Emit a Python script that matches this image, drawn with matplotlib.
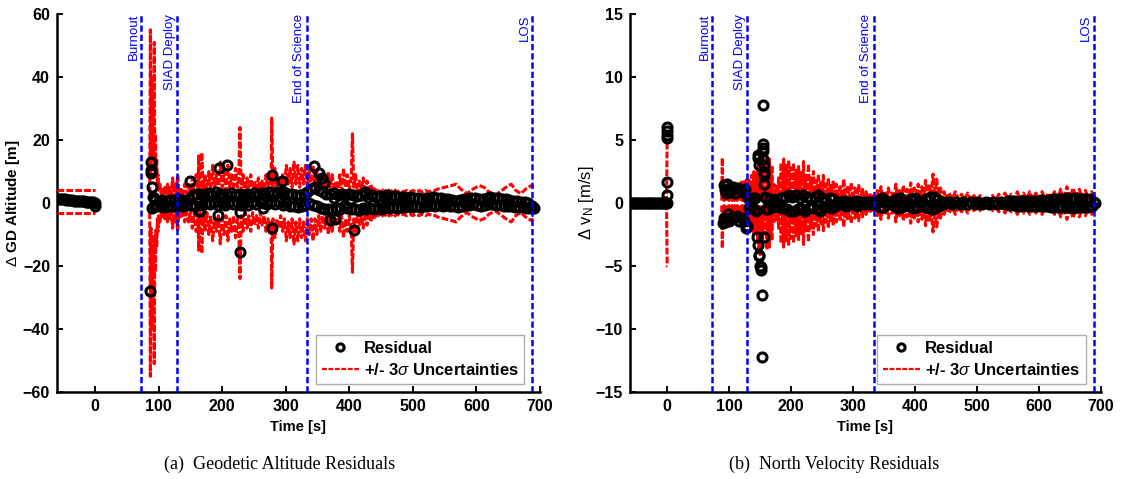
import numpy as np
import matplotlib
matplotlib.use("Agg")
import matplotlib.pyplot as plt

# ---------------- DATA ----------------
events = ["Burnout", "SIAD Deploy", "End of Science", "LOS"]
event_t = [73, 129, 333, 688]

# Panel (a): geodetic altitude residuals
alt_pre_t = [-60, -57, -54, -51, -48, -45, -42, -39, -36, -33, -30, -27, -24, -21, -18, -15, -12, -9, -6, -3, 0, 0.5]
alt_pre_r = [1.4, 1.3, 1.3, 1.2, 1.2, 1.1, 1.0, 1.0, 0.9, 0.8, 0.8, 0.7, 0.6, 0.6, 0.5, 0.4, 0.4, 0.3, 0.2, 0.2, 0.1, -1.0]
alt_pre_sig_t = [-60, 0]
alt_pre_sig_hi = [4.2, 4.2]
alt_pre_sig_lo = [-3.3, -3.3]

alt_t = [88, 89, 90, 91, 92, 93, 94, 95, 97, 100, 103, 106, 109, 112, 115, 118, 121, 124, 127, 130,
         133, 136, 139, 142, 145, 148, 151, 154, 157, 160, 163, 166, 169, 172, 175, 178, 181, 184, 187, 190,
         193, 196, 199, 202, 205, 208, 211, 214, 217, 220, 223, 226, 229, 232, 235, 238, 241, 244, 247, 250,
         253, 256, 259, 262, 265, 268, 271, 274, 277, 280, 283, 286, 289, 292, 295, 298, 301, 304, 307, 310,
         313, 316, 319, 322, 325, 328, 331, 334, 337, 340, 343, 346, 349, 352, 355, 358, 361, 364, 367, 370,
         373, 376, 379, 382, 385, 388, 391, 394, 397, 400, 403, 406, 409, 412, 415, 418, 421, 424, 427, 430,
         433, 436, 439, 442, 445, 448, 451, 454, 457, 460, 463, 466, 469, 472, 475, 478, 481, 484, 487, 490,
         493, 496, 499, 502, 505, 508, 511, 514, 517, 520, 523, 526, 529, 532, 535, 538, 541, 544, 547, 550,
         553, 556, 559, 562, 565, 568, 571, 574, 577, 580, 583, 586, 589, 592, 595, 598, 601, 604, 607, 610,
         613, 616, 619, 622, 625, 628, 631, 634, 637, 640, 643, 646, 649, 652, 655, 658, 661, 664, 667, 670,
         673, 676, 679, 682, 685, 688, 690]
alt_r = [9.5, 5.0, -1.5, 2.0, -1.0, 1.5, -0.5, 1.0, -1.0, 0.8, -0.9, 1.0, -1.2, 0.6, -0.8, 1.1, -1.0, 0.5, -0.9, 1.2,
         -0.6, 0.9, -1.0, 0.7, -0.5, 1.3, -0.5, 2.5, -0.8, 2.8, 0.2, 3.0, -0.5, 2.5, 0.0, 3.2, -0.4, 2.6, 0.3, 3.4,
         -0.6, 2.8, 0.0, 3.0, -0.5, 2.4, 0.2, 3.2, -0.3, 2.6, 0.4, 3.0, -0.6, 2.2, 0.0, 2.8, -0.5, 2.4, 0.3, 3.1,
         -0.2, 2.6, 0.5, 3.3, 0.0, 2.9, -0.4, 3.5, 0.2, 3.0, -0.3, 3.6, 0.4, 3.2, -0.5, 3.4, 0.0, 2.8, -0.8, 3.0,
         -1.0, 2.6, -1.2, 2.4, -0.9, 3.0, -0.5, 3.6, 0.0, 4.5, -0.5, 5.0, -1.0, 4.2, -1.5, 3.5, -2.0, 3.0, -1.8, 2.8,
         -2.2, 3.2, -1.5, 2.5, -2.0, 3.0, -1.0, 2.4, -1.6, 2.8, -2.0, 2.5, -1.8, 2.2, -2.2, 2.6, -1.5, 2.8, -2.0, 2.0,
         -1.6, 2.4, -1.8, 2.0, -1.5, 2.2, -1.8, 1.8, -1.4, 2.4, -1.6, 2.0, -1.2, 2.2, -1.5, 1.8, -1.2, 2.0, -1.4, 1.6,
         -1.0, 1.8, -1.2, 1.5, -0.9, 1.7, -1.1, 1.4, -0.8, 1.6, -1.0, 1.4, -0.7, 1.8, -0.9, 1.5, -0.6, 1.7, -0.8, 1.4,
         -0.5, 1.2, -0.9, 1.0, -1.0, 0.8, -1.1, 1.0, -0.9, 1.2, -0.6, 1.4, -0.5, 1.6, -0.4, 1.5, -0.6, 1.3, -0.8, 1.4,
         -0.5, 1.6, -0.4, 1.8, -0.3, 1.7, -0.5, 1.5, -0.6, 1.3, -0.8, 1.2, -0.9, 1.0, -1.0, 0.8, -1.2, 0.6, -1.3, 0.4,
         -1.4, 0.2, -1.5, 0.0, -1.6, -1.0, -1.7]
alt_out_t = [87, 87.5, 88.5, 149, 163, 165, 193, 195, 208, 228, 228, 264, 278, 278, 294, 345, 353, 357, 360, 370, 376, 377, 402, 407, 425]
alt_out_r = [-28, 13, 10.5, 7, -2.4, -2.6, -3.7, 11, 12, -15.5, -3, -1.6, 9, -8, 7, 11.8, 9.5, 8, 6.5, -5.5, 1.6, -5, 1.3, -8.4, 3.5]

alt_sig_t = [86, 87, 88, 89, 90, 91, 92, 93, 94, 95, 96, 97, 98, 99, 100, 102, 104, 106, 108, 110,
             112, 114, 116, 118, 120, 122, 124, 126, 128, 130, 132, 135, 138, 141, 144, 147, 150, 153, 156, 159,
             162, 163, 165, 168, 170, 173, 176, 179, 182, 185, 188, 191, 194, 197, 200, 203, 206, 209, 212, 215,
             218, 221, 224, 226, 228, 230, 233, 236, 239, 242, 245, 248, 251, 254, 257, 260, 263, 266, 269, 272,
             275, 277, 278, 280, 283, 286, 289, 292, 295, 298, 301, 304, 307, 310, 313, 316, 319, 322, 325, 328,
             331, 334, 337, 340, 343, 346, 349, 352, 355, 358, 361, 364, 367, 370, 373, 376, 379, 382, 385, 388,
             391, 394, 397, 400, 403, 405, 407, 410, 413, 416, 419, 422, 425, 428, 431, 434, 437, 440, 445, 450,
             455, 460, 465, 470, 475, 480, 485, 490, 495, 500, 505, 510, 515, 520, 525, 530, 535, 540, 550, 560,
             568, 575, 585, 595, 605, 612, 620, 630, 640, 650, 655, 662, 670, 678, 686, 690]
alt_sig = [3, 55, 8, 40, 15, 30, 10, 51, 12, 22, 8, 14, 5, 9, 4, 6, 3, 5, 2.5, 5,
           3, 6, 2.5, 5, 3, 8, 2, 6, 3, 9, 3, 5, 2, 6, 3, 6, 3, 8, 3, 9,
           4, 15, 3, 16, 4, 9, 3, 10, 4, 12, 5, 9, 4, 13, 5, 10, 4, 12, 5, 9,
           4, 11, 5, 8, 24, 4, 9, 3, 8, 4, 9, 3, 7, 4, 8, 3, 7, 4, 9, 5,
           10, 6, 27, 5, 11, 5, 8, 4, 9, 5, 12, 6, 11, 5, 13, 6, 12, 5, 11, 6,
           12, 5, 10, 5, 12, 5, 10, 4, 9, 4, 8, 4, 10, 5, 9, 4, 7, 3, 9, 4,
           11, 5, 9, 4, 8, 22, 5, 9, 3, 7, 4, 8, 3, 7, 3, 6, 3, 5, 3.5, 4.5,
           3.5, 4.5, 3.5, 4.5, 3.5, 4, 3.5, 4, 3.5, 4, 3.5, 4, 3.5, 4, 3.5, 4, 4, 4.5, 5, 5.5,
           6, 4.5, 3, 4.5, 5.5, 5, 3.5, 2.5, 4, 5.5, 6, 4, 3, 4.5, 5.5, 5]

# Panel (b): north velocity residuals
vel_pre_t = [-60, -57, -54, -51, -48, -45, -42, -39, -36, -33, -30, -27, -24, -21, -18, -15, -12, -9, -6, -3, 0, 0, 0, 0, 0, 0.5, 0.5]
vel_pre_r = [0, 0, 0, 0, 0, 0, 0, 0, 0, 0, 0, 0, 0, 0, 0, 0, 0, 0, 0, 0, 0, 6.0, 5.7, 5.4, 5.2, 1.7, 0.6]
vel_pre_sig_t = [-60, -1, 0, 0.5]
vel_pre_sig = [0.12, 0.12, 5.0, 5.0]

vel_t = [90, 91, 92, 93, 94, 95, 96, 97, 98, 99, 100, 102, 104, 106, 108, 110, 112, 114, 116, 118,
         120, 122, 124, 126, 128, 129, 130, 132, 134, 136, 138, 140, 142, 144, 158, 159,
         160, 163, 166, 169, 172, 175, 178, 181, 184, 187, 190, 193, 196, 199, 202, 205, 208, 211, 214, 217,
         220, 223, 226, 229, 232, 235, 238, 241, 244, 247, 250, 253, 256, 259, 262, 265, 268, 271, 274, 277,
         280, 283, 286, 289, 292, 295, 298, 301, 304, 307, 310, 313, 316, 319, 322, 325, 328, 331, 334, 337,
         340, 343, 346, 349, 352, 355, 358, 361, 364, 367, 370, 373, 376, 379, 382, 385, 388, 391, 394, 397,
         400, 403, 406, 409, 412, 415, 418, 421, 424, 427, 430, 433, 436, 439, 442, 445, 448, 454, 460, 466,
         472, 478, 484, 490, 496, 502, 508, 514, 520, 526, 532, 538, 544, 550, 553, 556, 559, 562, 565, 568,
         571, 574, 577, 580, 583, 586, 589, 592, 595, 598, 601, 604, 607, 610, 613, 616, 619, 622, 625, 628,
         631, 634, 637, 640, 643, 646, 649, 652, 655, 658, 661, 664, 667, 670, 673, 676, 679, 682, 685, 688, 690]
vel_r = [-1.6, 1.4, -1.2, 1.0, -1.5, 0.8, -1.3, 1.5, -0.9, 1.1, -1.4, 0.9, -1.1, 1.3, -1.2, 0.8, -1.0, 1.2, -1.4, 1.0,
         -1.2, 0.9, -1.4, 1.1, -2.0, -1.8, 0.4, -0.4, 0.3, -0.3, 0.4, -0.5, 0.4, -0.6, 0.5, -0.5,
         0.4, -0.5, 0.3, -0.3, 0.2, -0.2, 0.3, -0.3, 0.4, -0.4, 0.5, -0.5, 0.6, -0.6, 0.5, -0.6, 0.6, -0.5, 0.4, -0.5,
         0.6, -0.6, 0.5, -0.4, 0.3, -0.3, 0.5, -0.5, 0.6, -0.6, 0.4, -0.3, 0.2, -0.2, 0.4, -0.4, 0.3, -0.2, 0.1, -0.1,
         0.1, -0.1, 0.2, -0.2, 0.1, -0.1, 0.1, -0.1, 0.2, -0.2, 0.1, -0.1, 0.1, -0.1, 0.1, -0.1, 0.05, -0.05, 0.1, -0.1,
         0.2, -0.3, 0.4, -0.3, 0.2, -0.1, 0.1, -0.1, 0.2, -0.2, 0.3, -0.4, 0.4, -0.3, 0.2, -0.1, 0.1, -0.2, 0.3, -0.4,
         0.4, -0.3, 0.2, -0.1, 0.1, -0.2, 0.3, -0.4, 0.5, -0.5, 0.5, -0.4, 0.3, -0.2, 0.1, -0.1, 0.05, 0.05, -0.05, 0.05,
         -0.05, 0.05, -0.05, 0.05, -0.05, 0.05, -0.05, 0.05, -0.05, 0.1, -0.1, 0.1, -0.1, 0.15, -0.15, 0.2, -0.15, 0.15, -0.2, 0.2,
         -0.2, 0.15, -0.15, 0.2, -0.2, 0.2, -0.2, 0.15, -0.2, 0.2, -0.2, 0.25, -0.2, 0.2, -0.25, 0.25, -0.3, 0.3, -0.3, 0.3,
         -0.3, 0.35, -0.3, 0.3, -0.35, 0.4, -0.35, 0.35, -0.4, 0.4, -0.35, 0.3, -0.3, 0.35, -0.35, 0.3, -0.3, 0.3, -0.2, 0.1, 0.0]
vel_out_t = [145, 146, 146, 147, 147.5, 148, 149, 150, 151, 152, 152.5, 153, 154, 154, 154.5, 155, 155, 156, 156, 156.5, 157, 157]
vel_out_r = [-2.7, -3.3, 3.6, 3.8, 3.0, -4.1, -4.2, -5.0, -5.1, -5.3, -7.3, -12.2, 4.7, 4.4, 4.1, 7.8, 3.5, 3.0, 2.5, 2.2, 1.5, -2.7]

vel_sig_t = [88, 89, 90, 91, 92, 93, 94, 95, 96, 97, 98, 99, 100, 101, 102, 104, 105, 106, 107, 108,
             109, 110, 111, 112, 113, 114, 115, 116, 117, 118, 119, 120, 121, 122, 123, 124, 125, 126, 127, 128,
             129, 130, 131, 132, 133, 134, 135, 136, 137, 138, 139, 140, 141, 142, 143, 144, 145, 146, 147, 148,
             149, 150, 151, 152, 153, 154, 155, 156, 157, 158, 160, 161, 162, 163, 164, 165, 166, 167, 168, 169,
             170, 172, 174, 176, 178, 180, 182, 184, 186, 188, 190, 192, 194, 196, 198, 200, 202, 204, 206, 208,
             210, 212, 214, 216, 218, 220, 222, 224, 226, 228, 230, 232, 234, 236, 238, 240, 242, 244, 246, 248,
             250, 252, 254, 256, 258, 260, 262, 264, 266, 268, 270, 273, 276, 279, 282, 285, 288, 291, 294, 297,
             300, 303, 306, 309, 312, 315, 318, 321, 324, 327, 330, 333, 336, 339, 342, 345, 348, 351, 354, 357,
             360, 363, 366, 369, 372, 375, 378, 381, 384, 387, 390, 393, 396, 399, 402, 405, 408, 411, 414, 417,
             420, 423, 426, 429, 432, 435, 438, 441, 444, 447, 450, 455, 460, 465, 470, 475, 480, 485, 490, 495,
             500, 505, 510, 515, 520, 525, 530, 535, 540, 545, 550, 555, 560, 565, 570, 575, 580, 585, 590, 595,
             600, 605, 610, 615, 620, 625, 630, 635, 640, 645, 650, 655, 660, 665, 670, 675, 680, 685, 690]
vel_sig = [0.2, 3.6, 0.3, 1.3, 0.2, 1.5, 0.3, 1.2, 0.2, 1.4, 0.3, 1.1, 0.2, 1.3, 0.3, 1.0, 0.2, 1.2, 0.3, 0.9,
           0.2, 1.1, 0.3, 1.3, 0.2, 1.5, 0.3, 1.6, 0.2, 1.2, 0.3, 1.8, 0.2, 1.4, 0.3, 1.7, 0.2, 1.3, 0.3, 2.0,
           0.2, 1.5, 0.3, 1.8, 0.2, 1.4, 0.3, 2.2, 0.2, 1.6, 0.3, 2.5, 0.2, 1.8, 0.3, 2.4, 0.2, 3.0, 0.3, 3.6,
           0.3, 4.1, 0.3, 3.0, 0.5, 3.5, 0.3, 2.5, 0.1, 0.1, 0.4, 3.7, 0.5, 3.2, 0.6, 3.5, 0.5, 2.8, 0.4, 3.0,
           0.3, 1.5, 0.3, 1.5, 0.4, 2.0, 0.4, 3.2, 0.6, 3.5, 0.5, 3.0, 0.6, 3.4, 0.5, 2.8, 0.7, 3.2, 0.5, 2.6,
           0.6, 3.0, 0.5, 2.4, 0.6, 3.3, 0.5, 2.2, 0.6, 3.1, 0.5, 2.0, 0.6, 2.5, 0.4, 1.8, 0.5, 2.3, 0.4, 1.6,
           0.5, 2.2, 0.4, 1.5, 0.5, 2.0, 0.4, 1.4, 0.5, 1.8, 0.4, 1.5, 0.3, 1.3, 0.4, 1.9, 0.3, 1.4, 0.4, 1.6,
           0.3, 1.2, 0.3, 1.4, 0.2, 1.1, 0.3, 0.9, 0.2, 0.8, 0.2, 0.6, 0.2, 1.0, 0.3, 1.3, 0.3, 0.9, 0.3, 1.2,
           0.3, 0.8, 0.3, 1.5, 0.3, 1.0, 0.3, 1.4, 0.4, 1.1, 0.3, 1.6, 0.4, 1.2, 0.3, 1.5, 0.4, 1.3, 0.4, 1.8,
           0.5, 1.5, 0.6, 2.3, 0.5, 1.9, 0.5, 1.2, 0.3, 0.9, 0.3, 0.8, 0.3, 0.9, 0.3, 0.7, 0.3, 0.8, 0.2, 0.6,
           0.2, 0.6, 0.2, 0.5, 0.2, 0.6, 0.2, 0.7, 0.2, 0.8, 0.3, 0.7, 0.3, 0.9, 0.3, 0.8, 0.3, 0.9, 0.3, 0.8,
           0.3, 0.9, 0.3, 0.8, 0.3, 0.9, 0.3, 1.1, 0.3, 1.3, 0.4, 1.2, 0.4, 1.1, 0.4, 1.0, 0.3, 0.9, 0.5]

x_ticks = [0, 100, 200, 300, 400, 500, 600, 700]
alt_ticks = [-60, -40, -20, 0, 20, 40, 60]
vel_ticks = [-15, -10, -5, 0, 5, 10, 15]

# ---------------- STYLE ----------------
plt.rcParams['font.family'] = ['Liberation Sans', 'DejaVu Sans']
plt.rcParams['mathtext.fontset'] = 'custom'
plt.rcParams['mathtext.rm'] = 'Liberation Sans'
plt.rcParams['mathtext.it'] = 'Liberation Sans:italic'
plt.rcParams['mathtext.bf'] = 'Liberation Sans:bold'

fig = plt.figure(figsize=(11.3, 4.79), dpi=100)
ax1 = fig.add_axes([0.0504, 0.1816, 0.4274, 0.789])
ax2 = fig.add_axes([0.5575, 0.1816, 0.4168, 0.789])

res_kw = dict(linestyle='none', marker='o', markersize=6.5, markerfacecolor='none',
              markeredgecolor='black', markeredgewidth=2.2, zorder=4)
sig_kw = dict(color='red', linestyle='--', linewidth=2.2, dashes=(2.2, 0.7), zorder=3)


def setup(ax, ylim, yticks, ylabel, ylabel_weight, ylabel_size):
    ax.set_xlim(-60, 700)
    ax.set_ylim(*ylim)
    ax.set_xticks(x_ticks)
    ax.set_yticks(yticks)
    for s in ['top', 'right']:
        ax.spines[s].set_visible(False)
    for s in ['left', 'bottom']:
        ax.spines[s].set_linewidth(1.8)
    ax.tick_params(direction='in', length=4, width=1.4, labelsize=11.5, pad=5)
    for lab in ax.get_xticklabels() + ax.get_yticklabels():
        lab.set_fontweight('bold')
    ax.set_xlabel('Time [s]', fontsize=10.5, fontweight='bold', labelpad=4)
    ax.set_ylabel(ylabel, fontsize=ylabel_size, fontweight=ylabel_weight)
    ax.yaxis.set_label_coords(-0.072, 0.5)
    for name, t in zip(events, event_t):
        ax.axvline(t, color='blue', linestyle='--', linewidth=1.8, dashes=(2.5, 1.2), zorder=5)
        ax.text(t - 2, ylim[1], name, rotation=90, color='blue', fontsize=9.5,
                ha='right', va='top', zorder=6)


# Panel (a)
ax1.plot(alt_pre_t, alt_pre_r, label='Residual', **res_kw)
ax1.plot(alt_t, alt_r, **res_kw)
ax1.plot(alt_out_t, alt_out_r, **res_kw)
ax1.plot(alt_pre_sig_t, alt_pre_sig_hi, label=r'+/- 3$\sigma$ Uncertainties', **sig_kw)
ax1.plot(alt_pre_sig_t, alt_pre_sig_lo, **sig_kw)
ax1.plot(alt_sig_t, alt_sig, **sig_kw)
ax1.plot(alt_sig_t, -np.array(alt_sig), **sig_kw)
setup(ax1, (-60, 60), alt_ticks, r'$\Delta$ GD Altitude [m]', 'bold', 11)

# Panel (b)
ax2.plot(vel_pre_t, vel_pre_r, label='Residual', **res_kw)
ax2.plot(vel_t, vel_r, **res_kw)
ax2.plot(vel_out_t, vel_out_r, **res_kw)
ax2.plot(vel_pre_sig_t, vel_pre_sig, label=r'+/- 3$\sigma$ Uncertainties', **sig_kw)
ax2.plot(vel_pre_sig_t, -np.array(vel_pre_sig), **sig_kw)
ax2.plot(vel_sig_t, vel_sig, **sig_kw)
ax2.plot(vel_sig_t, -np.array(vel_sig), **sig_kw)
setup(ax2, (-15, 15), vel_ticks, r'$\Delta$ v$_\mathregular{N}$ [m/s]', 'normal', 12)

for ax in (ax1, ax2):
    leg = ax.legend(loc='lower right', bbox_to_anchor=(0.985, 0.0), fontsize=12,
                    prop={'weight': 'bold', 'size': 12}, frameon=True, fancybox=False,
                    borderpad=0.35, handlelength=2.2, handletextpad=0.3, labelspacing=0.35,
                    markerscale=0.8)
    leg.get_frame().set_edgecolor('#999999')
    leg.get_frame().set_linewidth(1.0)
    leg.set_zorder(10)
    for h in leg.get_lines():
        if h.get_linestyle() != 'None':
            h.set_linewidth(1.6)

fig.text(0.2478, 0.03, '(a)  Geodetic Altitude Residuals', ha='center', va='center',
         fontsize=13, family='Liberation Serif')
fig.text(0.7385, 0.03, '(b)  North Velocity Residuals', ha='center', va='center',
         fontsize=13, family='Liberation Serif')

fig.savefig('out.png', dpi=100)
